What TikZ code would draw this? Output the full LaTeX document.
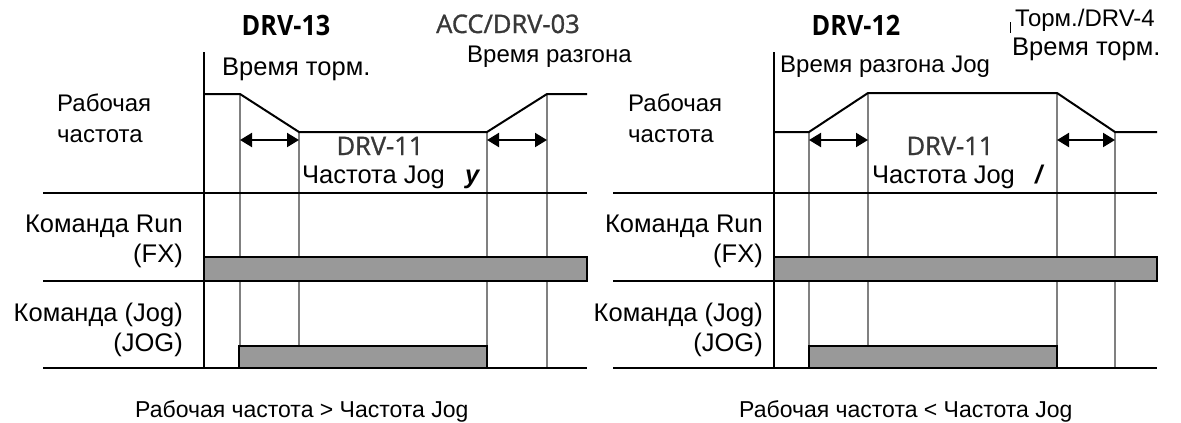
\documentclass[tikz,border=0pt]{standalone}
\usepackage{fontspec}
\setmainfont{Liberation Sans}
\newfontfamily\codefont[FakeBold=1.2]{Open Sans}
\newfontfamily\codeboldfont[FakeStretch=0.9]{Open Sans}
\usetikzlibrary{arrows.meta}
\tikzset{
 txt/.style={inner sep=0pt, font=\fontsize{25.5}{29}\selectfont},
 txtm/.style={inner sep=0pt, font=\fontsize{24}{28}\selectfont},
 capt/.style={inner sep=0pt, font=\fontsize{23}{27}\selectfont},
 code/.style={inner sep=0pt, font=\codefont\fontsize{25.5}{29}\selectfont, text=black!78},
 codeb/.style={inner sep=0pt, font=\codeboldfont\bfseries\fontsize{28}{32}\selectfont},
 axisline/.style={line width=2.6pt},
 guide/.style={line width=1.3pt, draw=black!50},
 curve/.style={line width=2pt, line join=miter},
 dur/.style={line width=2pt, {Triangle[length=12pt,width=14pt]}-{Triangle[length=12pt,width=14pt]}},
 sigbar/.style={draw=black, line width=2pt, fill=black!40},
}
\begin{document}
\begin{tikzpicture}[x=1pt,y=-1pt]
\useasboundingbox (0,0) rectangle (1181,423);
% ================= left panel =================
\begin{scope}[name prefix=L-]
\coordinate (a0) at (204,52); \coordinate (a1) at (204,368);
\coordinate (h1a) at (43,193); \coordinate (h1b) at (587,193);
\coordinate (h2a) at (43,281); \coordinate (h2b) at (587,281);
\coordinate (h3a) at (43,368); \coordinate (h3b) at (587,368);
\coordinate (c0) at (204,94); \coordinate (c1) at (240,94); \coordinate (c2) at (299,132);
\coordinate (c3) at (487,132); \coordinate (c4) at (547,94); \coordinate (c5) at (587,94);
\coordinate (g1) at (240,368); \coordinate (g2) at (299,368); \coordinate (g3) at (487,368); \coordinate (g4) at (547,368);
\coordinate (d1) at (240,140); \coordinate (d2) at (299,140); \coordinate (d3) at (487,140); \coordinate (d4) at (547,140);
\draw[guide] (c1) -- (g1); \draw[guide] (c2) -- (g2); \draw[guide] (c3) -- (g3); \draw[guide] (c4) -- (g4);
\draw[axisline] (h1a) -- (h1b); \draw[axisline] (h2a) -- (h2b); \draw[axisline] (h3a) -- (h3b);
\draw[axisline] (a0) -- (a1);
\draw[sigbar] (204,257) rectangle (587,281);
\draw[sigbar] (239,346) rectangle (487,368);
\draw[curve] (c0) -- (c1) -- (c2) -- (c3) -- (c4) -- (c5);
\draw[dur] (d1) -- (d2); \draw[dur] (d3) -- (d4);
\node[codeb, anchor=base] (t13) at (286,35) {DRV-13};
\node[code, anchor=base] (t03) at (508,33) {ACC/DRV-03};
\node[txt, anchor=base west] (dec) at (222,75) {Время торм.};
\node[txtm, anchor=base west] (acc) at (467,62) {Время разгона};
\node[txtm, anchor=base west] (f1) at (57,111) {Рабочая};
\node[txtm, anchor=base west] (f2) at (57,142) {частота};
\node[code, anchor=base] (t11) at (380,155) {DRV-11};
\node[txt, anchor=base west] (jf) at (302,183) {Частота Jog};
\node[txt, anchor=base west] (jy) at (465,183) {\bfseries\itshape y};
\node[txt, anchor=base east] (r1) at (183,232) {Команда Run};
\node[txt, anchor=base east] (r2) at (183,262) {(FX)};
\node[txt, anchor=base east] (j1) at (183,321) {Команда (Jog)};
\node[txt, anchor=base east] (j2) at (183,351) {(JOG)};
\node[capt, anchor=base west] (cap) at (135,417) {Рабочая частота > Частота Jog};
\end{scope}
% ================= right panel =================
\begin{scope}[name prefix=R-]
\coordinate (a0) at (774,52); \coordinate (a1) at (774,368);
\coordinate (h1a) at (613,193); \coordinate (h1b) at (1157,193);
\coordinate (h2a) at (613,281); \coordinate (h2b) at (1157,281);
\coordinate (h3a) at (613,368); \coordinate (h3b) at (1157,368);
\coordinate (c0) at (774,132); \coordinate (c1) at (809,132); \coordinate (c2) at (868,93);
\coordinate (c3) at (1057,93); \coordinate (c4) at (1115,132); \coordinate (c5) at (1157,132);
\coordinate (g1) at (809,368); \coordinate (g2) at (868,368); \coordinate (g3) at (1057,368); \coordinate (g4) at (1115,368);
\coordinate (d1) at (809,140); \coordinate (d2) at (868,140); \coordinate (d3) at (1057,140); \coordinate (d4) at (1115,140);
\draw[guide] (c1) -- (g1); \draw[guide] (c2) -- (g2); \draw[guide] (c3) -- (g3); \draw[guide] (c4) -- (g4);
\draw[axisline] (h1a) -- (h1b); \draw[axisline] (h2a) -- (h2b); \draw[axisline] (h3a) -- (h3b);
\draw[axisline] (a0) -- (a1);
\draw[sigbar] (774,257) rectangle (1157,281);
\draw[sigbar] (809,346) rectangle (1057,368);
\draw[curve] (c0) -- (c1) -- (c2) -- (c3) -- (c4) -- (c5);
\draw[dur] (d1) -- (d2); \draw[dur] (d3) -- (d4);
\node[codeb, anchor=base] (t12) at (856,35) {DRV-12};
\node[txtm, anchor=base west] (acc) at (780,72) {Время разгона Jog};
\coordinate (b0) at (1010,22); \coordinate (b1) at (1010,33);
\draw[line width=1pt] (b0) -- (b1);
\node[txtm, anchor=base west] (t4) at (1015,27) {Торм./DRV-4};
\node[txt, anchor=base west] (dec) at (1012,55) {Время торм.};
\node[txtm, anchor=base west] (f1) at (628,111) {Рабочая};
\node[txtm, anchor=base west] (f2) at (628,142) {частота};
\node[code, anchor=base] (t11) at (950,155) {DRV-11};
\node[txt, anchor=base west] (jf) at (872,183) {Частота Jog};
\node[txt, anchor=base west] (jy) at (1035,183) {\bfseries\itshape /};
\node[txt, anchor=base east] (r1) at (763,232) {Команда Run};
\node[txt, anchor=base east] (r2) at (763,262) {(FX)};
\node[txt, anchor=base east] (j1) at (763,321) {Команда (Jog)};
\node[txt, anchor=base east] (j2) at (763,351) {(JOG)};
\node[capt, anchor=base west] (cap) at (739,417) {Рабочая частота < Частота Jog};
\end{scope}
\end{tikzpicture}
\end{document}
